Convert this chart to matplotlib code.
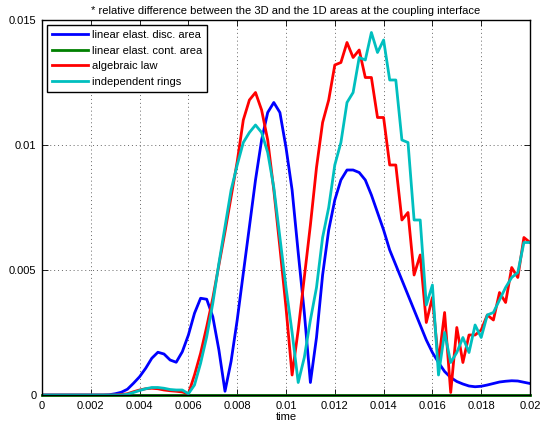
import numpy as np
import matplotlib
matplotlib.use('Agg')
import matplotlib.pyplot as plt

# 采样时间 (0 .. 0.02 s, 步长 0.00025)
time = np.linspace(0, 0.02, 81)

# linear elast. disc. area
disc_area = [0, 0, 0, 0, 0, 0, 0, 0, 0, 0,
             0, 0.00001, 0.00005, 0.00011, 0.00023, 0.00047, 0.00073, 0.00107, 0.00147, 0.00171,
             0.00164, 0.0014, 0.00131, 0.00173, 0.0024, 0.00327, 0.00387, 0.00383, 0.00313, 0.0018,
             0.00015, 0.00135, 0.003, 0.00487, 0.00673, 0.0086, 0.0102, 0.0113, 0.0117, 0.0113,
             0.0099, 0.0082, 0.0057, 0.0033, 0.0005, 0.0023, 0.0048, 0.0066, 0.0078, 0.0086,
             0.0090, 0.0090, 0.0089, 0.0086, 0.0080, 0.0073, 0.0066, 0.0058, 0.0052, 0.0046,
             0.0040, 0.0034, 0.0028, 0.0022, 0.0017, 0.0013, 0.00094, 0.0007, 0.00054, 0.00044,
             0.00036, 0.00033, 0.00035, 0.0004, 0.00046, 0.00052, 0.00055, 0.00057, 0.00056, 0.00051,
             0.00046]

# linear elast. cont. area (practically zero everywhere)
cont_area = [0.0] * 81

# algebraic law
algebraic = [0, 0, 0, 0, 0, 0, 0, 0, 0, 0,
             0, 0, 0, 0.00002, 0.00005, 0.00013, 0.0002, 0.00025, 0.00027, 0.00025,
             0.0002, 0.00017, 0.00015, 0.00012, 0.00005, 0.0008, 0.00167, 0.00273, 0.00387, 0.0052,
             0.00653, 0.00793, 0.00933, 0.0110, 0.0118, 0.0121, 0.0114, 0.0102, 0.0082, 0.0059,
             0.0035, 0.0008, 0.0026, 0.0047, 0.0068, 0.0091, 0.0109, 0.0118, 0.0132, 0.0133,
             0.0141, 0.0135, 0.0138, 0.0127, 0.0127, 0.0111, 0.0111, 0.0092, 0.0092, 0.0070,
             0.0073, 0.0048, 0.0056, 0.0029, 0.0039, 0.0013, 0.0033, 0.0001, 0.0027, 0.0013,
             0.0024, 0.0024, 0.0026, 0.0032, 0.0030, 0.0041, 0.0037, 0.0051, 0.0047, 0.0063,
             0.0061]

# independent rings
rings = [0, 0, 0, 0, 0, 0, 0, 0, 0, 0,
         0, 0, 0, 0, 0.00003, 0.0001, 0.00018, 0.00025, 0.0003, 0.0003,
         0.00027, 0.00022, 0.0002, 0.0002, 0.00005, 0.0004, 0.00127, 0.00233, 0.00367, 0.00527,
         0.00673, 0.0082, 0.0092, 0.0101, 0.0105, 0.0108, 0.0105, 0.0097, 0.0083, 0.0063,
         0.0043, 0.0025, 0.0005, 0.0015, 0.0030, 0.0043, 0.0063, 0.0075, 0.0092, 0.0101,
         0.0117, 0.0121, 0.0135, 0.0134, 0.0145, 0.0137, 0.0142, 0.0126, 0.0126, 0.0102,
         0.0101, 0.0070, 0.0070, 0.0036, 0.0044, 0.0008, 0.0025, 0.0013, 0.0017, 0.0023,
         0.0017, 0.0028, 0.0023, 0.0032, 0.0033, 0.0038, 0.0043, 0.0047, 0.0049, 0.0061,
         0.0061]

labels = ['linear elast. disc. area', 'linear elast. cont. area', 'algebraic law', 'independent rings']
colors = ['#0000ff', '#008000', '#ff0000', '#00bfbf']

x_ticks = [0, 0.002, 0.004, 0.006, 0.008, 0.01, 0.012, 0.014, 0.016, 0.018, 0.02]
x_ticklabels = ['0', '0.002', '0.004', '0.006', '0.008', '0.01', '0.012', '0.014', '0.016', '0.018', '0.02']
y_ticks = [0, 0.005, 0.01, 0.015]
y_ticklabels = ['0', '0.005', '0.01', '0.015']

plt.rcParams['font.family'] = ['Liberation Sans', 'DejaVu Sans']

fig = plt.figure(figsize=(5.41, 4.24), dpi=100)
ax = fig.add_axes([42 / 541, 1 - 395 / 424, 488 / 541, 375 / 424])

series = [disc_area, cont_area, algebraic, rings]
for data, lab, col in zip(series, labels, colors):
    ax.plot(time, data, color=col, lw=2, label=lab, clip_on=(lab != labels[1]))

ax.set_xlim(0, 0.02)
ax.set_ylim(0, 0.015)
ax.set_xticks(x_ticks)
ax.set_xticklabels(x_ticklabels)
ax.set_yticks(y_ticks)
ax.set_yticklabels(y_ticklabels)
ax.tick_params(direction='in', top=True, right=True, labelsize=8, length=4, width=0.6, pad=4)
ax.grid(True, linestyle=(0, (1, 3)), color='#666666', linewidth=0.7)
for sp in ax.spines.values():
    sp.set_linewidth(1.0)

ax.set_xlabel('time', fontsize=8, labelpad=1)
ax.set_title('* relative difference between the 3D and the 1D areas at the coupling interface',
             fontsize=8, pad=4)

leg = ax.legend(loc='upper left', fontsize=8, handlelength=3.2, labelspacing=0.5,
                borderaxespad=0.45, fancybox=False, framealpha=1, edgecolor='black',
                borderpad=0.45, handletextpad=0.4)
leg.get_frame().set_linewidth(1.0)

fig.savefig('out.png', dpi=100)
